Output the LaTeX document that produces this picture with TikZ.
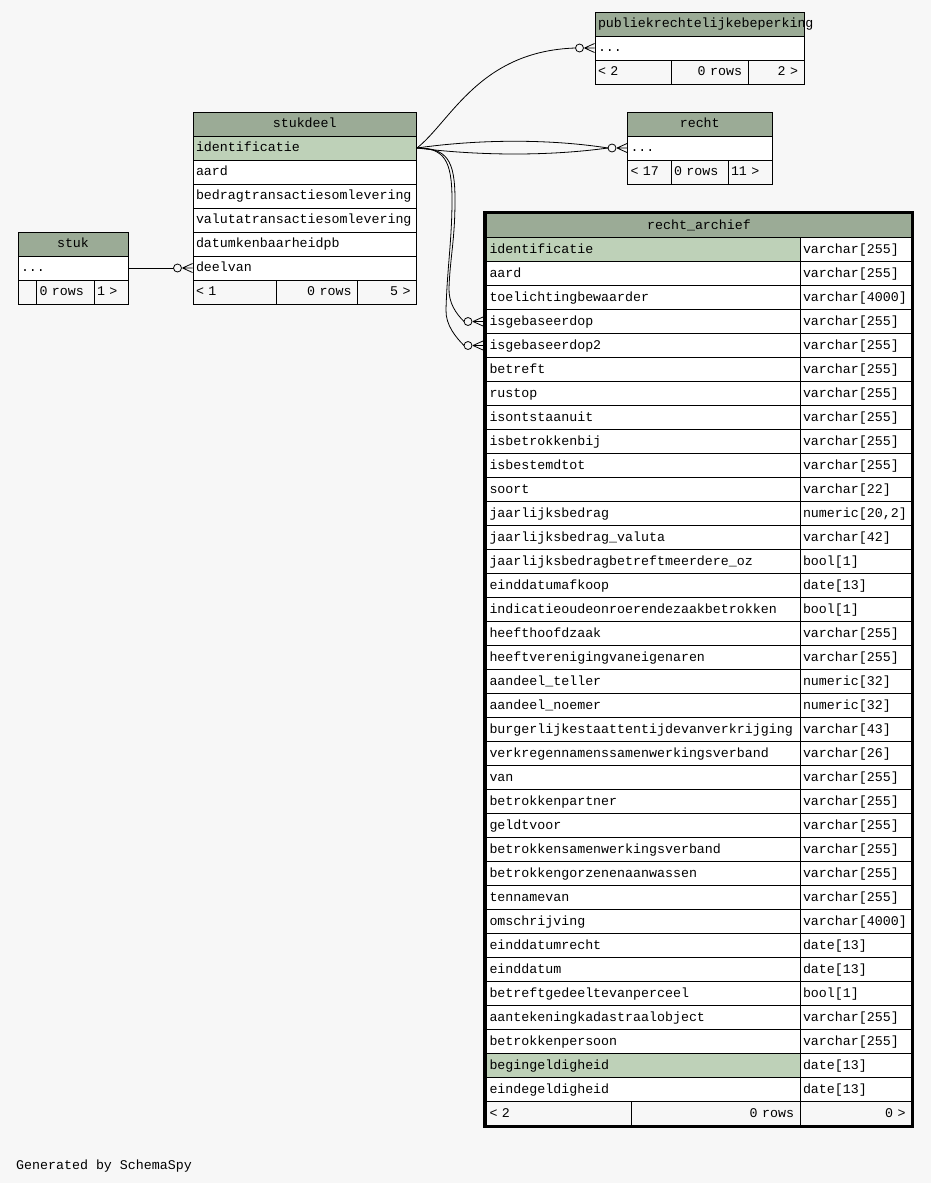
\documentclass[tikz,border=0pt]{standalone}
\usepackage{fontspec}
\newfontfamily\monofam{Liberation Mono}
\newcommand\tblfont{\monofam\fontsize{13.3pt}{16pt}\selectfont}
\definecolor{bgcol}{HTML}{F7F7F7}
\definecolor{hdrcol}{HTML}{9BAB96}
\definecolor{pkcol}{HTML}{BED1B8}
\tikzset{
  cell/.style={draw=black, line width=1pt, rectangle, anchor=north west, minimum height=24pt,
    inner xsep=3pt, inner ysep=0pt, text height=9.5pt, text depth=2.5pt, font=\tblfont,
    align=left, fill=white},
  hdr/.style={cell, fill=hdrcol, align=center},
  pk/.style={cell, fill=pkcol},
  foot/.style={cell, fill=bgcol},
  rfoot/.style={foot, align=right, inner xsep=6pt},
  conn/.style={draw=black, line width=0.8pt},
  crowend/.pic={
    \draw[conn] (-10,0) -- (0,-4.5) (-10,0) -- (0,0) (-10,0) -- (0,4.5);
    \draw[conn, fill=bgcol] (-15,0) circle[radius=4pt];
  }
}
\begin{document}
\begin{tikzpicture}[x=1pt, y=-1pt]
\useasboundingbox (0,0) rectangle (931,1183);
\fill[bgcol] (0,0) rectangle (931,1183);

% ---- stuk ----
\node[hdr, minimum width=110pt, text width=104pt] (stukh) at (17.5,231.5) {stuk};
\node[cell, minimum width=110pt, text width=104pt] (stukr) at (17.5,255.5) {...};
\node[foot, minimum width=18pt, text width=12pt] (stukf1) at (17.5,279.5) {};
\node[foot, minimum width=58pt, text width=52pt, inner xsep=3.5pt] (stukf2) at (35.5,279.5) {0 rows};
\node[foot, minimum width=34pt, text width=28pt] (stukf3) at (93.5,279.5) {1 >};

% ---- stukdeel ----
\node[hdr, minimum width=223.5pt, text width=217.5pt] (sdh) at (192.5,111.5) {stukdeel};
\node[pk, minimum width=223.5pt, text width=217.5pt] (sd1) at (192.5,135.5) {identificatie};
\node[cell, minimum width=223.5pt, text width=217.5pt] (sd2) at (192.5,159.5) {aard};
\node[cell, minimum width=223.5pt, text width=217.5pt] (sd3) at (192.5,183.5) {bedragtransactiesomlevering};
\node[cell, minimum width=223.5pt, text width=217.5pt] (sd4) at (192.5,207.5) {valutatransactiesomlevering};
\node[cell, minimum width=223.5pt, text width=217.5pt] (sd5) at (192.5,231.5) {datumkenbaarheidpb};
\node[cell, minimum width=223.5pt, text width=217.5pt] (sd6) at (192.5,255.5) {deelvan};
\node[foot, minimum width=83.5pt, text width=77.5pt] (sdf1) at (192.5,279.5) {< 1};
\node[rfoot, minimum width=81pt, text width=69pt] (sdf2) at (276,279.5) {0 rows};
\node[rfoot, minimum width=59pt, text width=47pt] (sdf3) at (357,279.5) {5 >};

% ---- publiekrechtelijkebeperking ----
\node[hdr, minimum width=209pt, text width=203pt] (pubh) at (594.5,11.5) {publiekrechtelijkebeperking};
\node[cell, minimum width=209pt, text width=203pt] (pubr) at (594.5,35.5) {...};
\node[foot, minimum width=76pt, text width=70pt] (pubf1) at (594.5,59.5) {< 2};
\node[rfoot, minimum width=77pt, text width=65pt] (pubf2) at (670.5,59.5) {0 rows};
\node[rfoot, minimum width=56pt, text width=44pt] (pubf3) at (747.5,59.5) {2 >};

% ---- recht ----
\node[hdr, minimum width=144.5pt, text width=138.5pt] (rechth) at (627,111.5) {recht};
\node[cell, minimum width=144.5pt, text width=138.5pt] (rechtr) at (627,135.5) {...};
\node[foot, minimum width=43.5pt, text width=37.5pt] (rechtf1) at (627,159.5) {< 17};
\node[foot, minimum width=57pt, text width=51pt] (rechtf2) at (670.5,159.5) {0 rows};
\node[foot, minimum width=44pt, text width=38pt] (rechtf3) at (727.5,159.5) {11 >};

% ---- recht_archief ----
\node[hdr, minimum width=425pt, text width=419pt] (rah) at (486,213) {recht\_archief};
\foreach \nm/\ty/\fc [count=\i] in {
  identificatie/varchar[255]/pkcol,
  aard/varchar[255]/white,
  toelichtingbewaarder/varchar[4000]/white,
  isgebaseerdop/varchar[255]/white,
  isgebaseerdop2/varchar[255]/white,
  betreft/varchar[255]/white,
  rustop/varchar[255]/white,
  isontstaanuit/varchar[255]/white,
  isbetrokkenbij/varchar[255]/white,
  isbestemdtot/varchar[255]/white,
  soort/varchar[22]/white,
  jaarlijksbedrag/{numeric[20,2]}/white,
  jaarlijksbedrag\_valuta/varchar[42]/white,
  jaarlijksbedragbetreftmeerdere\_oz/bool[1]/white,
  einddatumafkoop/date[13]/white,
  indicatieoudeonroerendezaakbetrokken/bool[1]/white,
  heefthoofdzaak/varchar[255]/white,
  heeftverenigingvaneigenaren/varchar[255]/white,
  aandeel\_teller/numeric[32]/white,
  aandeel\_noemer/numeric[32]/white,
  burgerlijkestaattentijdevanverkrijging/varchar[43]/white,
  verkregennamenssamenwerkingsverband/varchar[26]/white,
  van/varchar[255]/white,
  betrokkenpartner/varchar[255]/white,
  geldtvoor/varchar[255]/white,
  betrokkensamenwerkingsverband/varchar[255]/white,
  betrokkengorzenenaanwassen/varchar[255]/white,
  tennamevan/varchar[255]/white,
  omschrijving/varchar[4000]/white,
  einddatumrecht/date[13]/white,
  einddatum/date[13]/white,
  betreftgedeeltevanperceel/bool[1]/white,
  aantekeningkadastraalobject/varchar[255]/white,
  betrokkenpersoon/varchar[255]/white,
  begingeldigheid/date[13]/pkcol,
  eindegeldigheid/date[13]/white}{
  \node[cell, fill=\fc, minimum width=313.5pt, text width=307.5pt] (ra\i) at (486,{237+24*(\i-1)}) {\nm};
  \node[cell, minimum width=111.5pt, text width=105.5pt] (rt\i) at (799.5,{237+24*(\i-1)}) {\ty};
}
\node[foot, minimum width=144.5pt, text width=138.5pt] (raf1) at (486,1101) {< 2};
\node[rfoot, minimum width=169pt, text width=157pt] (raf2) at (630.5,1101) {0 rows};
\node[rfoot, minimum width=111.5pt, text width=99.5pt] (raf3) at (799.5,1101) {0 >};
\draw[line width=3pt] (484,212) rectangle (912.5,1126.5);

% ---- connectors ----
\draw[conn] (stukr.east) -- ([xshift=-19pt]sd6.west);
\pic at (sd6.west) {crowend};

\draw[conn] (sd1.east) .. controls +(34,-27) and +(-96,3) .. ([xshift=-19pt]pubr.west);
\pic at (pubr.west) {crowend};

\draw[conn] (sd1.east) .. controls +(64,-9) and +(-58,-9) .. ([xshift=-19pt]rechtr.west);
\draw[conn] (sd1.east) .. controls +(64,8) and +(-58,8) .. ([xshift=-19pt]rechtr.west);
\pic at (rechtr.west) {crowend};

\draw[conn] (sd1.east) .. controls +(30,0) and +(0,-40) .. (455,200)
  .. controls +(0,40) and +(1,-30) .. (449,288)
  .. controls +(-0.5,15) and +(-8,-8) .. ([xshift=-22pt]ra4.west);
\pic at ([xshift=-3pt]ra4.west) {crowend};

\draw[conn] (sd1.east) .. controls +(27,0) and +(0,-40) .. (452,200)
  .. controls +(0,40) and +(1,-40) .. (446,310)
  .. controls +(-0.5,15) and +(-8,-8) .. ([xshift=-22pt]ra5.west);
\pic at ([xshift=-3pt]ra5.west) {crowend};

% ---- footer ----
\node[anchor=base west, font=\tblfont, inner sep=0pt] (gen) at (16,1169) {Generated by SchemaSpy};
\end{tikzpicture}
\end{document}
